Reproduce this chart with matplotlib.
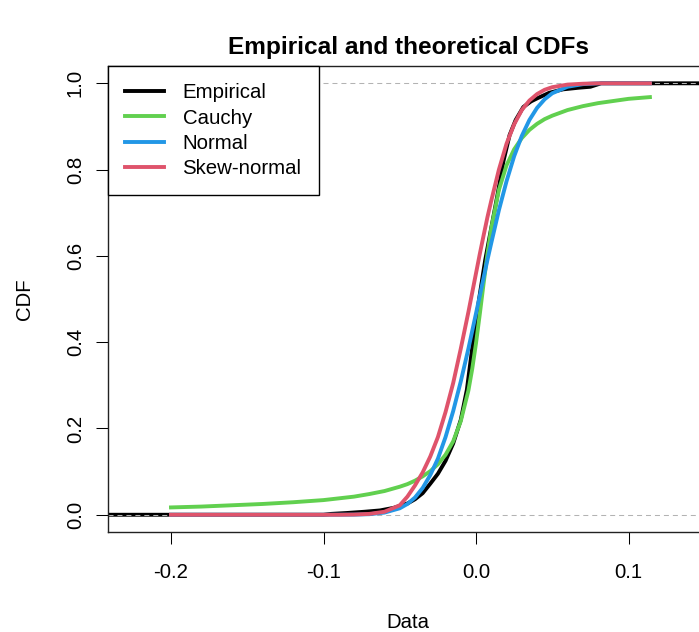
import matplotlib
matplotlib.use("Agg")
import matplotlib.pyplot as plt

# x grid used for the fitted curves
fit_x = [-0.20, -0.18, -0.16, -0.14, -0.12, -0.10, -0.09, -0.08, -0.07, -0.06,
         -0.05, -0.045, -0.04, -0.035, -0.03, -0.025, -0.02, -0.015, -0.01, -0.005,
         -0.0025, 0.0, 0.0025, 0.005, 0.0075, 0.01, 0.015, 0.02, 0.025, 0.03,
         0.035, 0.04, 0.045, 0.05, 0.06, 0.07, 0.08, 0.09, 0.10, 0.114]

cauchy_cdf = [0.017, 0.019, 0.022, 0.025, 0.029, 0.034, 0.038, 0.042, 0.048, 0.055,
              0.065, 0.071, 0.079, 0.089, 0.101, 0.117, 0.139, 0.170, 0.217, 0.288,
              0.338, 0.398, 0.466, 0.537, 0.605, 0.664, 0.753, 0.810, 0.847, 0.873,
              0.892, 0.906, 0.917, 0.925, 0.938, 0.947, 0.954, 0.959, 0.964, 0.968]

normal_cdf = [0, 0, 0, 0, 0, 0, 0.0001, 0.0003, 0.0013, 0.005,
              0.015, 0.025, 0.040, 0.062, 0.092, 0.130, 0.180, 0.240, 0.309, 0.385,
              0.426, 0.467, 0.508, 0.550, 0.591, 0.630, 0.706, 0.773, 0.831, 0.878,
              0.915, 0.943, 0.963, 0.977, 0.992, 0.998, 1, 1, 1, 1]

skew_cdf = [0, 0, 0, 0, 0, 0, 0, 0.0005, 0.002, 0.007,
            0.022, 0.042, 0.068, 0.098, 0.135, 0.18, 0.238, 0.305, 0.385, 0.47,
            0.515, 0.56, 0.605, 0.648, 0.69, 0.728, 0.80, 0.86, 0.905, 0.938,
            0.96, 0.975, 0.985, 0.991, 0.997, 0.999, 1, 1, 1, 1]

# empirical cdf points
emp_x = [-0.26, -0.10, -0.095, -0.085, -0.073, -0.063, -0.054, -0.045, -0.040, -0.035,
         -0.030, -0.025, -0.020, -0.015, -0.010, -0.006, -0.002, 0.002, 0.006, 0.010,
         0.014, 0.018, 0.022, 0.026, 0.031, 0.036, 0.040, 0.048, 0.057, 0.068,
         0.075, 0.082, 0.17]
emp_y = [0.0, 0.0, 0.002, 0.004, 0.007, 0.010, 0.016, 0.026, 0.036, 0.050,
         0.072, 0.095, 0.125, 0.165, 0.220, 0.29, 0.40, 0.50, 0.59, 0.665,
         0.74, 0.82, 0.88, 0.915, 0.945, 0.958, 0.965, 0.978, 0.986, 0.99,
         0.992, 1.0, 1.0]

x_ticks = [-0.2, -0.1, 0.0, 0.1]
x_labels = ["-0.2", "-0.1", "0.0", "0.1"]
y_ticks = [0.0, 0.2, 0.4, 0.6, 0.8, 1.0]
y_labels = ["0.0", "0.2", "0.4", "0.6", "0.8", "1.0"]

plt.rcParams['font.family'] = ['Liberation Sans', 'DejaVu Sans']
plt.rcParams['font.size'] = 14.7

fig = plt.figure(figsize=(6.99, 6.32), dpi=100)
ax = fig.add_axes([0.1545, 0.1582, 0.8584, 0.7373])

lw = 2.8
ax.plot(emp_x, emp_y, color="black", lw=lw, zorder=2, label="Empirical")
ax.axhline(0, color="#B3B3B3", lw=0.75, ls=(0, (4.8, 3.8)), zorder=2.5)
ax.axhline(1, color="#B3B3B3", lw=0.75, ls=(0, (4.8, 3.8)), zorder=2.5)
ax.plot(fit_x, cauchy_cdf, color="#61D04F", lw=lw, zorder=3, label="Cauchy")
ax.plot(fit_x, normal_cdf, color="#2297E6", lw=lw, zorder=3.1, label="Normal")
ax.plot(fit_x, skew_cdf, color="#DF536B", lw=lw, zorder=3.2, label="Skew-normal")

ax.set_xlim(-0.2413, 0.1521)
ax.set_ylim(-0.04, 1.04)
ax.set_xticks(x_ticks)
ax.set_xticklabels(x_labels)
ax.set_yticks(y_ticks)
ax.set_yticklabels(y_labels)
ax.tick_params(axis='x', length=8.6, width=0.75, pad=14)
ax.tick_params(axis='y', length=8.6, width=0.75, pad=8, labelrotation=90)
for t in ax.get_yticklabels():
    t.set_va('center')
for s in ax.spines.values():
    s.set_linewidth(1.0)
    s.set_color("#222222")

ax.set_title("Empirical and theoretical CDFs", fontsize=17.6, fontweight="bold", pad=8.6)
ax.set_xlabel("Data")
ax.xaxis.set_label_coords(0.5, -0.1738)
ax.set_ylabel("CDF")
ax.yaxis.set_label_coords(-0.1233, 0.5)

leg = ax.legend(loc="upper left", bbox_to_anchor=(0, 1), borderaxespad=0,
                fancybox=False, edgecolor="black", framealpha=1,
                handlelength=1.9, handletextpad=0.9, borderpad=0.85,
                labelspacing=0.3)
leg.get_frame().set_linewidth(1.0)

fig.savefig("out.png", dpi=100)
